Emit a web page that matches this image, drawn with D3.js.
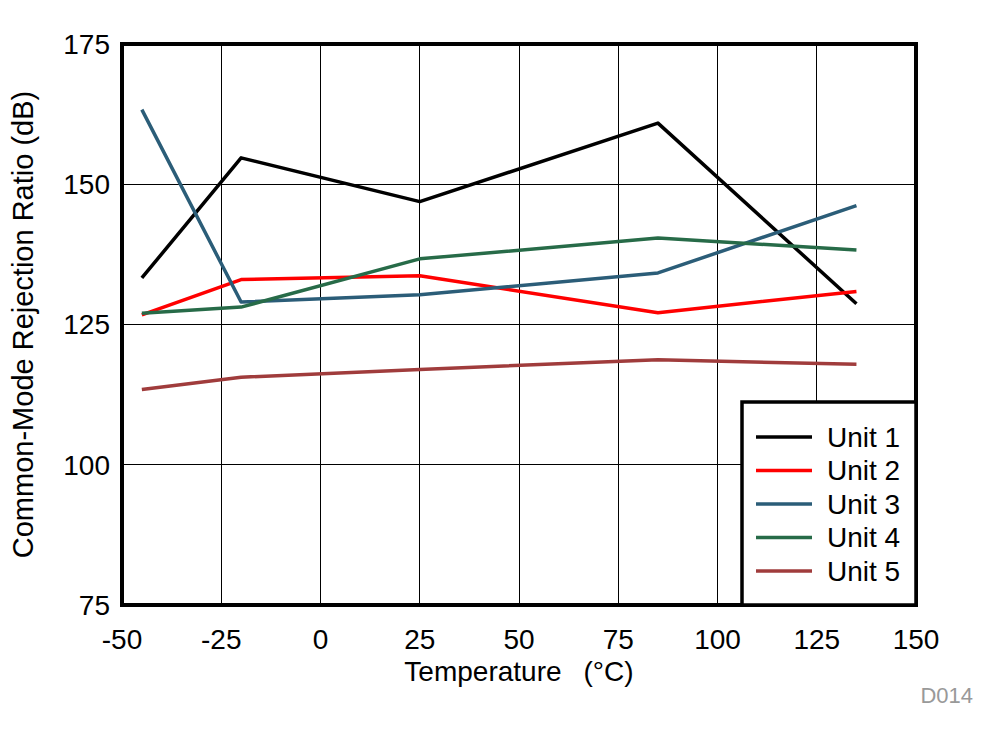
<!DOCTYPE html>
<html>
<head>
<meta charset="utf-8">
<script src="https://cdn.jsdelivr.net/npm/d3@7"></script>
<style>
  html, body { margin: 0; padding: 0; background: #fff; }
  svg { display: block; font-family: "Liberation Sans", Arial, sans-serif; }
</style>
</head>
<body>
<svg id="chart" width="998" height="734"></svg>
<script>
// ---- data ----
const temperatures = [-45, -20, 25, 85, 135];
const seriesNames = ["Unit 1", "Unit 2", "Unit 3", "Unit 4", "Unit 5"];
const unit1 = [133.3, 154.7, 146.9, 160.9, 128.7];
const unit2 = [126.7, 133.0, 133.7, 127.1, 130.9];
const unit3 = [163.3, 129.0, 130.3, 134.2, 146.2];
const unit4 = [127.0, 128.1, 136.7, 140.4, 138.3];
const unit5 = [113.4, 115.6, 117.0, 118.7, 117.9];
const seriesColors = ["#000000", "#FF0000", "#2B5D78", "#276B48", "#A03C3C"];
const xTicks = [-50, -25, 0, 25, 50, 75, 100, 125, 150];
const yTicks = [75, 100, 125, 150, 175];
const xTitleMain = "Temperature";
const xTitleUnit = "(\u00B0C)";
const yTitle = "Common-Mode Rejection Ratio (dB)";
const footnote = "D014";

const seriesValues = [unit1, unit2, unit3, unit4, unit5];

// ---- layout ----
const svg = d3.select("#chart");
const L = 122, R = 916, T = 44, B = 605;
const x = d3.scaleLinear().domain([-50, 150]).range([L, R]);
const y = d3.scaleLinear().domain([75, 175]).range([B, T]);

// grid
const g = svg.append("g");
g.selectAll("line.vg").data(xTicks).enter().append("line")
  .attr("x1", d => x(d)).attr("x2", d => x(d))
  .attr("y1", T).attr("y2", B)
  .attr("stroke", "#000").attr("stroke-width", 1).attr("shape-rendering", "crispEdges");
g.selectAll("line.hg").data(yTicks).enter().append("line")
  .attr("x1", L).attr("x2", R)
  .attr("y1", d => y(d)).attr("y2", d => y(d))
  .attr("stroke", "#000").attr("stroke-width", 1).attr("shape-rendering", "crispEdges");

// series
const line = d3.line().x((d, i) => x(temperatures[i])).y(d => y(d));
seriesValues.forEach((vals, k) => {
  svg.append("path").datum(vals)
    .attr("d", line)
    .attr("fill", "none")
    .attr("stroke", seriesColors[k])
    .attr("stroke-width", 3.5)
    .attr("stroke-linejoin", "round");
});

// border
svg.append("rect").attr("x", L).attr("y", T).attr("width", R - L).attr("height", B - T)
  .attr("fill", "none").attr("stroke", "#000").attr("stroke-width", 4);

// axes tick labels
svg.append("g").selectAll("text").data(xTicks).enter().append("text")
  .attr("x", d => x(d)).attr("y", 649)
  .attr("text-anchor", "middle").attr("font-size", 28).attr("fill", "#000")
  .text(d => d);
svg.append("g").selectAll("text").data(yTicks).enter().append("text")
  .attr("x", 110).attr("y", d => y(d)).attr("dy", "0.35em")
  .attr("text-anchor", "end").attr("font-size", 28).attr("fill", "#000")
  .text(d => d);

// titles
const xt = svg.append("text").attr("x", (L + R) / 2).attr("y", 681)
  .attr("text-anchor", "middle").attr("font-size", 28).attr("fill", "#000");
xt.append("tspan").text(xTitleMain);
xt.append("tspan").attr("dx", 22).text(xTitleUnit);
svg.append("text")
  .attr("transform", `translate(33, ${(T + B) / 2}) rotate(-90)`)
  .attr("text-anchor", "middle").attr("font-size", 29).attr("fill", "#000")
  .text(yTitle);
svg.append("text").attr("x", 973).attr("y", 703)
  .attr("text-anchor", "end").attr("font-size", 22).attr("fill", "#999")
  .text(footnote);

// legend
const lg = svg.append("g");
lg.append("rect").attr("x", 742).attr("y", 402).attr("width", R - 742).attr("height", B - 402)
  .attr("fill", "#fff").attr("stroke", "#000").attr("stroke-width", 3.5);
const legY = d3.scalePoint().domain(seriesNames).range([437, 571]);
seriesNames.forEach((name, k) => {
  lg.append("line").attr("x1", 756).attr("x2", 812)
    .attr("y1", legY(name)).attr("y2", legY(name))
    .attr("stroke", seriesColors[k]).attr("stroke-width", 3.5);
  lg.append("text").attr("x", 827).attr("y", legY(name)).attr("dy", "0.35em")
    .attr("font-size", 28).attr("fill", "#000").text(name);
});
</script>
</body>
</html>
